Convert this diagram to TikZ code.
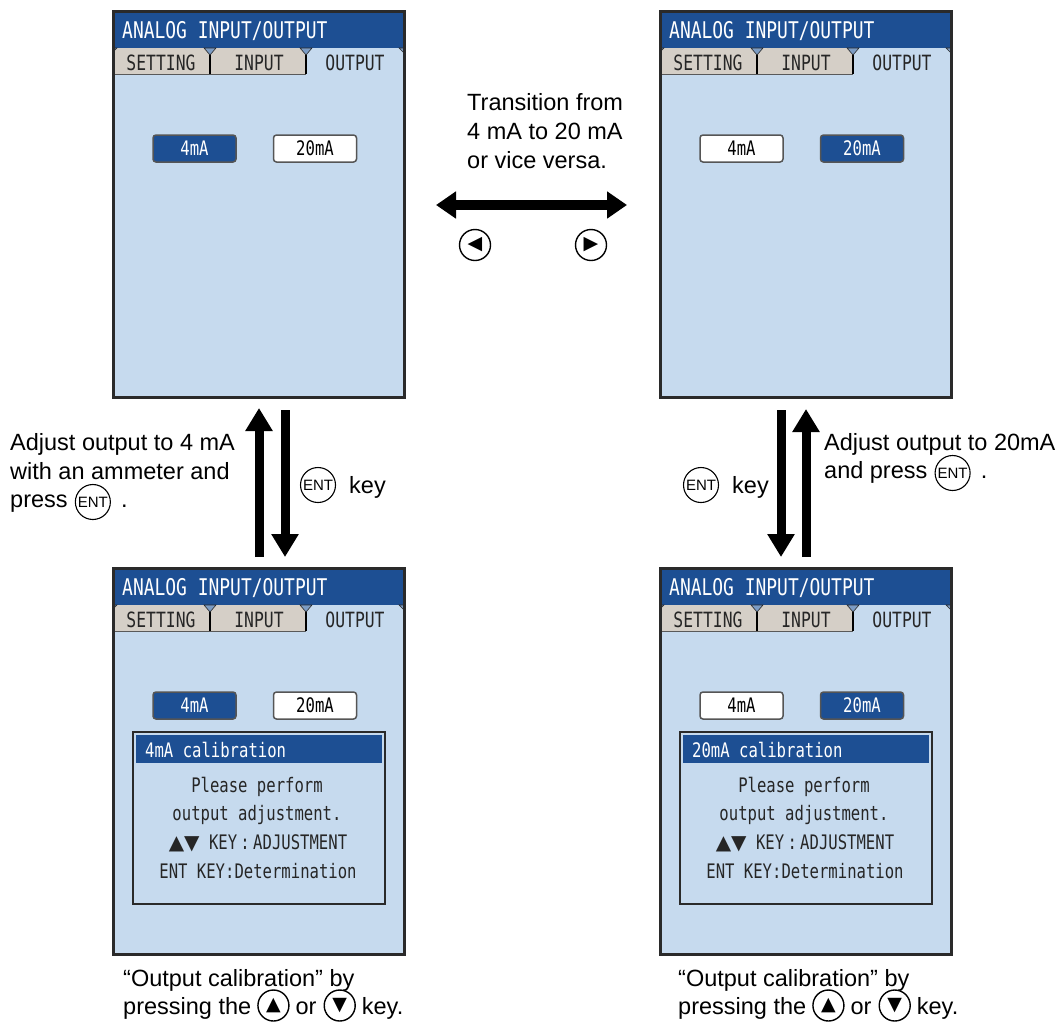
\documentclass[tikz,border=0pt]{standalone}
\usepackage{fontspec}
\setmainfont{Liberation Sans}
\newfontfamily\lcd[FakeStretch=0.78]{DejaVu Sans Mono}
\newfontfamily\symf{DejaVu Sans}
\usetikzlibrary{arrows.meta,calc}
\definecolor{lcdbg}{HTML}{C6DAEE}
\definecolor{hdrblue}{HTML}{1D4F93}
\definecolor{tabgray}{HTML}{D5CFC7}
\definecolor{frame}{HTML}{2A2A2A}
\definecolor{tabmarkc}{HTML}{7C9CC4}
\tikzset{
  screen/.style={fill=lcdbg, minimum width=291pt, minimum height=386pt, anchor=north west, inner sep=0, outer sep=0},
  lcdborder/.style={draw=frame, line width=3pt},
  hdrtext/.style={anchor=base west, inner sep=0, text=white, font=\lcd\fontsize{23}{23}\selectfont},
  tabtext/.style={anchor=base, inner sep=0, text=black!85, font=\lcd\fontsize{21}{21}\selectfont},
  tabdiv/.style={draw=black, line width=1.6pt},
  tabmark/.style={fill=tabmarkc, draw=frame, line width=0.6pt},
  btnbase/.style={draw=frame!80, line width=1.5pt, rounded corners=3pt, minimum width=83pt, minimum height=27pt, inner sep=0, font=\lcd\fontsize{20}{20}\selectfont},
  selbtn/.style={btnbase, fill=hdrblue, text=white},
  unselbtn/.style={btnbase, fill=white, text=black},
  dialogbox/.style={draw=frame, line width=1.8pt, fill=lcdbg, minimum width=252pt, minimum height=172pt, inner sep=0},
  dlgtitle/.style={anchor=base west, inner sep=0, text=white, font=\lcd\fontsize{20}{20}\selectfont},
  dlgtext/.style={anchor=base, inner sep=0, text=black!85, font=\lcd\fontsize{20}{20}\selectfont},
  lbl/.style={anchor=base west, inner sep=0, font=\fontsize{23.5}{29}\selectfont},
  entkey/.style={circle, draw, line width=1.1pt, minimum size=35pt, inner sep=0, font=\fontsize{15}{15}\selectfont},
  arrowkey/.style={circle, draw, line width=1.4pt, minimum size=31pt, inner sep=0, font=\symf\fontsize{19}{19}\selectfont},
  bigarrow/.style={line width=9pt, -{Triangle[width=26pt,length=23pt]}},
  bigarrowH/.style={line width=10pt, {Triangle[width=26pt,length=20pt]}-{Triangle[width=26pt,length=20pt]}}
}
\newcommand\lcdscreen[5]{%
\begin{scope}[shift={(#2,#3)}]
\node[screen] (#1) at (0,0) {};
\fill[hdrblue] (0,0) rectangle (291,37);
\fill[tabgray] (0,37) rectangle (193,63);
\draw[gray!70!black, line width=0.8pt] (0,63) -- (193,63);
\draw[tabdiv] (97,43) -- (97,63);
\draw[tabdiv] (193,43) -- (193,63);
\filldraw[tabmark] (91,37) -- (103,37) -- (97,44) -- cycle;
\filldraw[tabmark] (187,37) -- (199,37) -- (193,44) -- cycle;
\filldraw[tabmark] (0,37) -- (4,37) -- (0,41) -- cycle;
\filldraw[tabmark] (286,37) -- (291,37) -- (291,42) -- cycle;
\node[hdrtext] (#1-hdr) at (9,27) {ANALOG INPUT/OUTPUT};
\node[tabtext] (#1-t1) at (48,59) {SETTING};
\node[tabtext] (#1-t2) at (146,59) {INPUT};
\node[tabtext] (#1-t3) at (242,59) {OUTPUT};
\node[#4] (#1-b4) at (81.5,137.5) {4mA};
\node[#5] (#1-b20) at (202,137.5) {20mA};
\draw[lcdborder] (#1.north west) rectangle (#1.south east);
\end{scope}}
\newcommand\lcddialog[4]{%
\begin{scope}[shift={(#2,#3)}]
\node[dialogbox] (#1) at (146,250) {};
\fill[hdrblue] (23,167) rectangle (269,195);
\node[dlgtitle] (#1-title) at (32,189) {#4};
\node[dlgtext] (#1-l1) at (144,224) {Please perform};
\node[dlgtext] (#1-l2) at (144,252) {output adjustment.};
\node[dlgtext] (#1-l3) at (145,281) {{\symf ▲▼}\ KEY\,:\,ADJUSTMENT};
\node[dlgtext] (#1-l4) at (145,310) {ENT KEY:Determination};
\end{scope}}
\begin{document}
\begin{tikzpicture}[x=1pt,y=-1pt]
\useasboundingbox[fill=white] (0,0) rectangle (1064,1023);
% screens
\lcdscreen{tl}{113}{11}{selbtn}{unselbtn}
\lcdscreen{tr}{660}{11}{unselbtn}{selbtn}
\lcdscreen{bl}{113}{568}{selbtn}{unselbtn}
\lcddialog{dl}{113}{568}{4mA calibration}
\lcdscreen{br}{660}{568}{unselbtn}{selbtn}
\lcddialog{dr}{660}{568}{20mA calibration}
% transition
\node[lbl] (tr1) at (467,110) {Transition from};
\node[lbl] (tr2) at (467,139) {4 mA to 20 mA};
\node[lbl] (tr3) at (467,168) {or vice versa.};
\coordinate (hL) at (436,205);
\coordinate (hR) at (627,205);
\draw[bigarrowH] (hL) -- (hR);
\node[arrowkey] (kl) at (475,245) {◀};
\node[arrowkey] (kr) at (591,245) {▶};
% left vertical arrows
\coordinate (lupS) at (259,557);
\coordinate (lupE) at (259,408);
\coordinate (ldnS) at (285,410);
\coordinate (ldnE) at (285,557);
\draw[bigarrow] (lupS) -- (lupE);
\draw[bigarrow] (ldnS) -- (ldnE);
% right vertical arrows
\coordinate (rdnS) at (781,410);
\coordinate (rdnE) at (781,557);
\coordinate (rupS) at (806,557);
\coordinate (rupE) at (806,409);
\draw[bigarrow] (rdnS) -- (rdnE);
\draw[bigarrow] (rupS) -- (rupE);
% left labels
\node[lbl] (la1) at (10,450) {Adjust output to 4 mA};
\node[lbl] (la2) at (10,479) {with an ammeter and};
\node[lbl] (la3) at (10,507) {press};
\node[entkey] (laent) at ($(la3.base east)+(25,-5)$) {ENT};
\node[lbl] (ladot) at ($(laent.center)+(28,5)$) {.};
\node[entkey] (lkent) at (318,485) {ENT};
\node[lbl] (lkey) at (349,493) {key};
% right labels
\node[lbl] (ra1) at (824,450) {Adjust output to 20mA};
\node[lbl] (ra2) at (824,478) {and press};
\node[entkey] (raent) at ($(ra2.base east)+(25,-5)$) {ENT};
\node[lbl] (radot) at ($(raent.center)+(28,5)$) {.};
\node[entkey] (rkent) at (701,485) {ENT};
\node[lbl] (rkey) at (732,493) {key};
% bottom captions
\node[lbl] (cl1) at (123,986) {“Output calibration” by};
\node[lbl] (cl2) at (123,1014) {pressing the};
\node[arrowkey] (clup) at ($(cl2.base east)+(22,-8.5)$) {▲};
\node[lbl] (clor) at ($(clup.center)+(22,8.5)$) {or};
\node[arrowkey] (cldn) at ($(clor.base east)+(23,-8.5)$) {▼};
\node[lbl] (clkey) at ($(cldn.center)+(22,8.5)$) {key.};
\node[lbl] (cr1) at (678,986) {“Output calibration” by};
\node[lbl] (cr2) at (678,1014) {pressing the};
\node[arrowkey] (crup) at ($(cr2.base east)+(22,-8.5)$) {▲};
\node[lbl] (cror) at ($(crup.center)+(22,8.5)$) {or};
\node[arrowkey] (crdn) at ($(cror.base east)+(23,-8.5)$) {▼};
\node[lbl] (crkey) at ($(crdn.center)+(22,8.5)$) {key.};
\end{tikzpicture}
\end{document}
